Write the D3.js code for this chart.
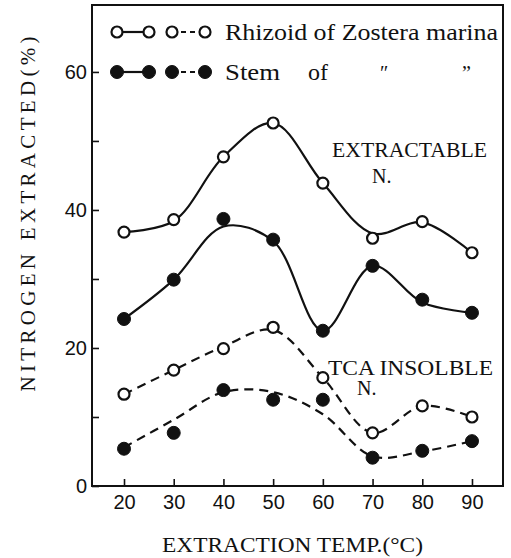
<!DOCTYPE html>
<html>
<head>
<meta charset="utf-8">
<script src="https://cdn.jsdelivr.net/npm/d3@7/dist/d3.min.js"></script>
<style>
  body { margin: 0; background: #fff; }
  svg { display: block; }
  text { fill: #111; }
</style>
</head>
<body>
<svg id="chart" width="511" height="558"></svg>
<script>
// extraction temperature (C)
var temps = [20, 30, 40, 50, 60, 70, 80, 90];

// measured points, % nitrogen extracted
var rhizoidExtract = [36.8, 38.6, 47.7, 52.6, 43.9, 35.9, 38.3, 33.8];
var stemExtract    = [24.2, 29.9, 38.7, 35.7, 22.5, 31.9, 27.0, 25.1];
var rhizoidTCA     = [13.3, 16.8, 19.9, 23.0, 15.7, 7.7, 11.6, 10.0];
var stemTCA        = [5.4, 7.7, 13.9, 12.5, 12.5, 4.1, 5.1, 6.5];

// hand drawn curves, read where they cross each temperature
var rhizoidExtractCurve = [36.8, 38.4, 47.7, 52.6, 43.9, 36.6, 38.2, 33.8];
var stemExtractCurve    = [24.2, 29.9, 37.6, 35.5, 22.5, 31.9, 26.6, 25.1];
var rhizoidTCACurve     = [13.3, 16.8, 20.2, 22.6, 15.7, 7.7, 11.6, 10.0];
var stemTCACurve        = [5.6, 9.6, 13.6, 13.6, 10.4, 4.3, 5.0, 6.5];

var yTicks = [0, 10, 20, 30, 40, 50, 60];
var yLabels = [0, 20, 40, 60];

var svg = d3.select('#chart');

var x = d3.scaleLinear().domain([13.56, 96.24]).range([92, 503]);
var y = d3.scaleLinear().domain([0, 69.7]).range([486, 5]);

var numFont = "'Liberation Sans Narrow', 'Arial Narrow', 'Liberation Sans', sans-serif";
var serif = "'Liberation Serif', 'DejaVu Serif', 'Times New Roman', serif";

// frame
svg.append('rect')
    .attr('x', x(13.56)).attr('y', y(69.7))
    .attr('width', x(96.24) - x(13.56))
    .attr('height', y(0) - y(69.7))
    .attr('fill', 'none').attr('stroke', '#111').attr('stroke-width', 2);

var xAxis = svg.append('g')
    .attr('transform', 'translate(0,' + y(0) + ')')
    .call(d3.axisBottom(x).tickValues(temps).tickSizeInner(-7).tickSizeOuter(0).tickPadding(9));

var yAxis = svg.append('g')
    .attr('transform', 'translate(' + x(13.56) + ',0)')
    .call(d3.axisLeft(y).tickValues(yTicks).tickSizeInner(-7).tickSizeOuter(0).tickPadding(5)
        .tickFormat(function(d) { return yLabels.indexOf(d) >= 0 ? d : ''; }));

[xAxis, yAxis].forEach(function(g) {
    g.select('.domain').remove();
    g.selectAll('.tick line').attr('stroke', '#111').attr('stroke-width', 1.6);
    g.selectAll('.tick text')
        .style('font-family', numFont)
        .style('font-size', '20px')
        .attr('fill', '#111');
});

// curves
var line = d3.line()
    .x(function(d) { return x(d[0]); })
    .y(function(d) { return y(d[1]); })
    .curve(d3.curveCatmullRom.alpha(0.5));

var series = [
    {pts: rhizoidExtract, curve: rhizoidExtractCurve, filled: false, dash: null},
    {pts: stemExtract, curve: stemExtractCurve, filled: true, dash: null},
    {pts: rhizoidTCA, curve: rhizoidTCACurve, filled: false, dash: '9,6'},
    {pts: stemTCA, curve: stemTCACurve, filled: true, dash: '9,6'}
];

series.forEach(function(s) {
    svg.append('path')
        .datum(d3.zip(temps, s.curve))
        .attr('d', line)
        .attr('fill', 'none')
        .attr('stroke', '#111')
        .attr('stroke-width', 2.2)
        .attr('stroke-dasharray', s.dash);
});

series.forEach(function(s) {
    svg.selectAll('.nope').data(d3.zip(temps, s.pts))
        .enter().append('circle')
        .attr('cx', function(d) { return x(d[0]); })
        .attr('cy', function(d) { return y(d[1]); })
        .attr('r', s.filled ? 6.5 : 5.5)
        .attr('fill', s.filled ? '#111' : '#fff')
        .attr('stroke', '#111')
        .attr('stroke-width', s.filled ? 1 : 2.2);
});

// legend
var legRows = [
    {y: 32, filled: false},
    {y: 72, filled: true}
];
legRows.forEach(function(r) {
    var pairs = [[117, 149, null], [172, 205, '5,4']];
    pairs.forEach(function(p) {
        svg.append('line')
            .attr('x1', p[0]).attr('x2', p[1]).attr('y1', r.y).attr('y2', r.y)
            .attr('stroke', '#111').attr('stroke-width', 2.2)
            .attr('stroke-dasharray', p[2]);
        [p[0], p[1]].forEach(function(cx) {
            svg.append('circle')
                .attr('cx', cx).attr('cy', r.y)
                .attr('r', r.filled ? 6.5 : 5.5)
                .attr('fill', r.filled ? '#111' : '#fff')
                .attr('stroke', '#111')
                .attr('stroke-width', r.filled ? 1 : 2.2);
        });
    });
});

function label(txt, tx, ty, size, len) {
    var t = svg.append('text')
        .attr('x', tx).attr('y', ty)
        .style('font-family', serif)
        .style('font-size', size + 'px')
        .text(txt);
    if (len) t.attr('textLength', len).attr('lengthAdjust', 'spacingAndGlyphs');
    return t;
}

label('Rhizoid of Zostera marina', 225, 40, 23, 273);
label('Stem', 225, 80, 23, 55);
label('of', 308, 80, 23, 20);
label('\u2033', 380, 80, 20);
label('\u201D', 462, 80, 20);

label('EXTRACTABLE', 332, 157, 20, 155);
label('N.', 372, 183, 20);
label('TCA INSOLBLE', 328, 375, 20, 165);
label('N.', 357, 395, 20);

// axis titles
label('EXTRACTION TEMP.(\u00B0C)', 162, 552, 21, 261);
svg.append('text')
    .attr('transform', 'translate(35,214) rotate(-90)')
    .attr('text-anchor', 'middle')
    .attr('textLength', 355).attr('lengthAdjust', 'spacing')
    .style('font-family', serif)
    .style('font-size', '21px')
    .text('NITROGEN EXTRACTED(%)');
</script>
</body>
</html>
